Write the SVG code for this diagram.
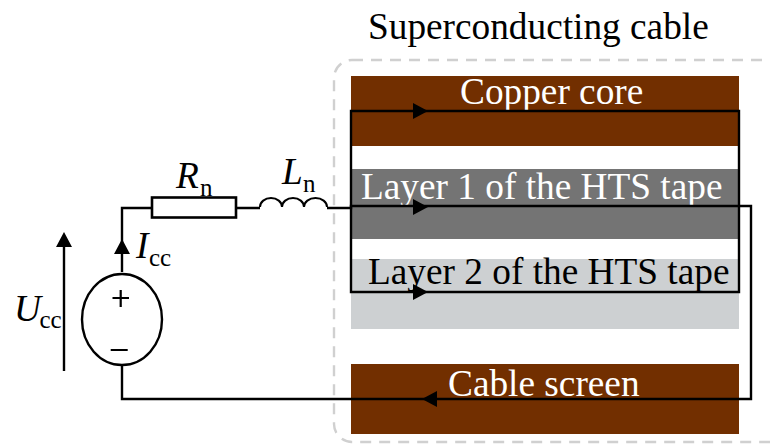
<svg xmlns="http://www.w3.org/2000/svg" width="770" height="444" viewBox="0 0 770 444">
<style>
.t{font-family:"Liberation Serif","Times New Roman",serif;font-size:37.300px}
.i{font-style:italic}
.s{font-size:25px}
.w{fill:#fff}
.k{fill:#000}
.wire{fill:none;stroke:#000;stroke-width:2.400}
.ar{fill:#000;stroke:none}
</style>
<rect width="770" height="444" fill="#fff"/>
<g id="cable-boundary"><rect x="334" y="60" width="500" height="382" rx="18" fill="none" stroke="#d0d0d0" stroke-width="2.400" stroke-dasharray="11 8"/>
<text class="t k" x="368" y="38.500">Superconducting cable</text></g>
<g id="copper-core"><rect x="351" y="76" width="388" height="70" fill="#722f00"/><text class="t w" x="460" y="103.500">Copper core</text></g>
<g id="layer-1"><rect x="351" y="169" width="388" height="70" fill="#747474"/><text class="t w" x="361" y="199">Layer 1 of the HTS tape</text></g>
<g id="layer-2"><rect x="351" y="259" width="388" height="70" fill="#cdd0d2"/><text class="t k" x="368" y="283.500">Layer 2 of the HTS tape</text></g>
<g id="cable-screen"><rect x="351" y="364" width="388" height="70" fill="#722f00"/><text class="t w" x="448" y="395.500">Cable screen</text></g>
<g id="connectors">
<path class="wire" d="M122 272V208H152M236 208H260M327 208H351V206H751V399H122V365"/>
<path class="wire" d="M351 111H739V292H351Z"/>
<path class="wire" d="M64 371V240"/>
<path class="ar" d="M413 103L428 111L413 119Z"/>
<path class="ar" d="M413 199L428 207L413 215Z"/>
<path class="ar" d="M413 284L428 292L413 300Z"/>
<path class="ar" d="M437 391L422 399L437 407Z"/>
<path class="ar" d="M122 239L130 254H114Z"/>
<path class="ar" d="M64 232L72 247H56Z"/>
</g>
<g id="resistor"><rect x="152" y="197.500" width="84" height="20" fill="#fff" stroke="#000" stroke-width="2.600"/><text class="t i" x="176" y="188">R</text><text class="t s" x="200" y="196">n</text></g>
<g id="inductor"><path d="M260 207a11 9 0 0 1 22 0a11 9 0 0 1 22 0a11.500 9 0 0 1 23 0" fill="none" stroke="#000" stroke-width="2"/><text class="t i" x="282" y="184">L</text><text class="t s" x="303" y="192">n</text></g>
<g id="source"><ellipse cx="122" cy="319.500" rx="40" ry="45.500" fill="#fff" stroke="#000" stroke-width="2.400"/><path d="M112.500 298H129M120.700 290V307M110.700 350H127.700" fill="none" stroke="#000" stroke-width="2.200"/></g>
<g id="current-label"><text class="t i" x="136" y="258">I</text><text class="t s" x="149" y="266">cc</text></g>
<g id="voltage-label"><text class="t i" x="14" y="321">U</text><text class="t s" x="39.500" y="328">cc</text></g>
</svg>
